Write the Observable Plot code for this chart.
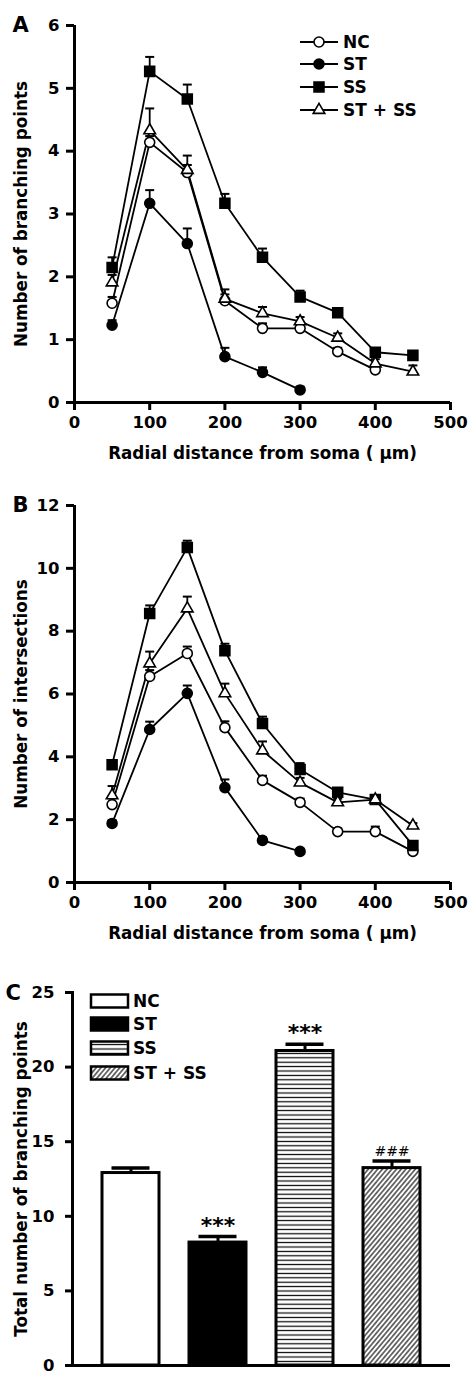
<!DOCTYPE html>
<html><head><meta charset="utf-8">
<script src="https://cdn.jsdelivr.net/npm/d3@7"></script>
<script src="https://cdn.jsdelivr.net/npm/@observablehq/plot@0.6"></script>
<style>
body{margin:0;background:#fff;}
#c svg{display:block;overflow:visible;}
</style></head><body><div id="c"></div>
<script>
// ---------- data ----------
const radius = [50, 100, 150, 200, 250, 300, 350, 400, 450];
const radiusTicks = [0, 100, 200, 300, 400, 500];
const groups = ["NC", "ST", "SS", "ST + SS"];

// Panel A: number of branching points
const branchNC = [1.58, 4.14, 3.66, 1.62, 1.18, 1.18, 0.81, 0.52];
const branchNCErr = [0.1, 0.1, 0.12, 0.1, 0.08, 0.08, 0.06, 0.05];
const branchST = [1.23, 3.17, 2.53, 0.73, 0.48, 0.20];
const branchSTErr = [0.08, 0.21, 0.24, 0.14, 0.08, 0.05];
const branchSS = [2.15, 5.27, 4.83, 3.17, 2.31, 1.68, 1.43, 0.80, 0.75];
const branchSSErr = [0.16, 0.23, 0.23, 0.15, 0.14, 0.10, 0.06, 0.06, 0.05];
const branchSTSS = [1.91, 4.33, 3.70, 1.65, 1.42, 1.29, 1.03, 0.62, 0.49];
const branchSTSSErr = [0.12, 0.35, 0.23, 0.15, 0.10, 0.07, 0.07, 0.07, 0.10];
const branchTicks = [0, 1, 2, 3, 4, 5, 6];

// Panel B: number of intersections
const interNC = [2.48, 6.56, 7.29, 4.93, 3.25, 2.55, 1.62, 1.62, 0.99];
const interNCErr = [0.2, 0.2, 0.22, 0.2, 0.15, 0.12, 0.1, 0.16, 0.1];
const interST = [1.88, 4.87, 6.02, 3.02, 1.34, 0.99];
const interSTErr = [0.1, 0.25, 0.25, 0.26, 0.1, 0.08];
const interSS = [3.75, 8.56, 10.66, 7.38, 5.06, 3.60, 2.87, 2.64, 1.18];
const interSSErr = [0.12, 0.26, 0.22, 0.22, 0.22, 0.2, 0.12, 0.12, 0.1];
const interSTSS = [2.77, 6.97, 8.72, 6.02, 4.20, 3.18, 2.55, 2.64, 1.81];
const interSTSSErr = [0.3, 0.38, 0.38, 0.31, 0.29, 0.15, 0.12, 0.1, 0.08];
const interTicks = [0, 2, 4, 6, 8, 10, 12];

// Panel C: total number of branching points
const totalValues = [12.9, 8.24, 21.08, 13.23];
const totalErr = [0.33, 0.4, 0.45, 0.47];
const totalNotes = ["", "***", "***", "###"];
const totalTicks = [0, 5, 10, 15, 20, 25];

const xLabel = "Radial distance from soma ( \u03bcm)";
const labelA = "Number of branching points";
const labelB = "Number of intersections";
const labelC = "Total number of branching points";

// ---------- helpers ----------
function longRows(vals, errs) {
  const rows = [];
  groups.forEach((g, gi) => {
    vals[gi].forEach((v, i) => rows.push({group: g, r: radius[i], v, e: errs[gi][i]}));
  });
  return rows;
}
const rowsA = longRows([branchNC, branchST, branchSS, branchSTSS], [branchNCErr, branchSTErr, branchSSErr, branchSTSSErr]);
const rowsB = longRows([interNC, interST, interSS, interSTSS], [interNCErr, interSTErr, interSSErr, interSTSSErr]);
const rowsC = groups.map((g, i) => ({group: g, v: totalValues[i], e: totalErr[i], note: totalNotes[i]}));

const look = {
  "NC": {symbol: "circle", fill: "white", r: 5},
  "ST": {symbol: "circle", fill: "black", r: 5},
  "SS": {symbol: "square", fill: "black", r: 5.6},
  "ST + SS": {symbol: "triangle", fill: "white", r: 4.3}
};
const capSymbol = {draw(ctx) { ctx.moveTo(-4.5, 0); ctx.lineTo(4.5, 0); }};
const FONT = "DejaVu Sans";
const TICK_FS = 16.5;
const LABEL_FS = 16.8;

function linePanel({rows, yMax, yTicks, yLabel, letter, height, marginTop}) {
  return Plot.plot({
    width: 468, height, marginTop, marginBottom: 68, marginLeft: 74, marginRight: 18,
    style: {fontFamily: FONT, fontWeight: "bold", fontSize: "16px", color: "black", background: "white", overflow: "visible"},
    x: {domain: [0, 500]},
    y: {domain: [0, yMax]},
    marks: [
      Plot.axisX({ticks: radiusTicks, tickSize: 8, tickPadding: 6, strokeWidth: 3, tickFormat: d => String(d), label: null, fontSize: TICK_FS}),
      Plot.axisY({ticks: yTicks, tickSize: 8, tickPadding: 7, strokeWidth: 3, tickFormat: d => String(d), label: null, fontSize: TICK_FS}),
      Plot.ruleX([0], {stroke: "black", strokeWidth: 3}),
      Plot.ruleY([0], {stroke: "black", strokeWidth: 3}),
      Plot.line(rows, {x: "r", y: "v", z: "group", stroke: "black", strokeWidth: 1.8}),
      Plot.ruleX(rows, {x: "r", y1: "v", y2: d => d.v + d.e, stroke: "black", strokeWidth: 1.8}),
      Plot.dot(rows, {x: "r", y: d => d.v + d.e, symbol: capSymbol, r: 5, stroke: "black", strokeWidth: 2}),
      ...groups.map(g => Plot.dot(rows.filter(d => d.group === g), {
        x: "r", y: "v", symbol: look[g].symbol, r: look[g].r,
        fill: look[g].fill, stroke: "black", strokeWidth: 1.6
      })),
      Plot.text([xLabel], {text: d => d, frameAnchor: "bottom", dy: 45, lineAnchor: "top", textAnchor: "middle", fontSize: LABEL_FS}),
      Plot.text([yLabel], {text: d => d, frameAnchor: "left", dx: -53, rotate: -90, textAnchor: "middle", lineAnchor: "middle", fontSize: LABEL_FS}),
      Plot.text([letter], {text: d => d, frameAnchor: "top-left", dx: -62, dy: -8, textAnchor: "start", lineAnchor: "top", fontSize: 21})
    ]
  });
}

const root = document.getElementById("c");

// Panel A
const svgA = linePanel({rows: rowsA, yMax: 6, yTicks: branchTicks, yLabel: labelA, letter: "A", height: 470, marginTop: 25});
root.appendChild(svgA);
{
  const g = d3.select(svgA).append("g").attr("font-family", FONT).attr("font-weight", "bold").attr("font-size", 17).attr("text-anchor", "start");
  const rowsY = [42, 64, 87, 110];
  groups.forEach((name, i) => {
    const y = rowsY[i];
    g.append("line").attr("x1", 300).attr("x2", 338).attr("y1", y).attr("y2", y).attr("stroke", "black").attr("stroke-width", 1.8);
    const sym = look[name].symbol === "circle" ? d3.symbolCircle : look[name].symbol === "square" ? d3.symbolSquare : d3.symbolTriangle;
    const r = look[name].r;
    g.append("path").attr("d", d3.symbol(sym, r * r * Math.PI)()).attr("transform", `translate(319,${y})`)
      .attr("fill", look[name].fill).attr("stroke", "black").attr("stroke-width", 1.6);
    g.append("text").attr("x", 343).attr("y", y).attr("dy", "0.36em").text(name);
  });
}

// Panel B
const svgB = linePanel({rows: rowsB, yMax: 12, yTicks: interTicks, yLabel: labelB, letter: "B", height: 480, marginTop: 35});
root.appendChild(svgB);

// Panel C
const fills = {"NC": "white", "ST": "black", "SS": "url(#hlines)", "ST + SS": "url(#diag)"};
const svgC = Plot.plot({
  width: 468, height: 425, marginTop: 42, marginBottom: 10, marginLeft: 72, marginRight: 18,
  style: {fontFamily: FONT, fontWeight: "bold", fontSize: "16px", color: "black", background: "white", overflow: "visible"},
  x: {domain: groups, padding: 0.34, axis: null},
  y: {domain: [0, 25]},
  marks: [
    ...groups.map(g => Plot.barY(rowsC.filter(d => d.group === g), {x: "group", y: "v", fill: fills[g], stroke: "black", strokeWidth: 3})),
    Plot.ruleX(rowsC, {x: "group", y1: "v", y2: d => d.v + d.e, stroke: "black", strokeWidth: 3}),
    Plot.tickY(rowsC, {x: "group", y: d => d.v + d.e, stroke: "black", strokeWidth: 3.5, insetLeft: 9.5, insetRight: 9.5}),
    Plot.text(rowsC.filter(d => d.note === "***"), {x: "group", y: d => d.v + d.e, text: "note", dy: -4, lineAnchor: "bottom", fontSize: 22}),
    Plot.text(rowsC.filter(d => d.note === "###"), {x: "group", y: d => d.v + d.e, text: "note", dy: -5, lineAnchor: "bottom", fontSize: 14, fontWeight: "normal"}),
    Plot.axisY({ticks: totalTicks, tickSize: 7, tickPadding: 11, strokeWidth: 3, tickFormat: d => String(d), label: null, fontSize: TICK_FS}),
    Plot.frame({anchor: "left", stroke: "black", strokeWidth: 3}),
    Plot.ruleY([0], {stroke: "black", strokeWidth: 3}),
    Plot.text([labelC], {text: d => d, frameAnchor: "left", dx: -51, rotate: -90, textAnchor: "middle", lineAnchor: "middle", fontSize: LABEL_FS}),
    Plot.text(["C"], {text: d => d, frameAnchor: "top-left", dx: -67, dy: -7, textAnchor: "start", lineAnchor: "top", fontSize: 21})
  ]
});
root.appendChild(svgC);
{
  const svg = d3.select(svgC);
  const defs = svg.insert("defs", ":first-child");
  const ph = defs.append("pattern").attr("id", "hlines").attr("patternUnits", "userSpaceOnUse").attr("width", 8).attr("height", 4.4);
  ph.append("rect").attr("width", 8).attr("height", 4.4).attr("fill", "white");
  ph.append("line").attr("x1", 0).attr("x2", 8).attr("y1", 2.2).attr("y2", 2.2).attr("stroke", "black").attr("stroke-width", 1.2);
  const pd = defs.append("pattern").attr("id", "diag").attr("patternUnits", "userSpaceOnUse").attr("width", 3.6).attr("height", 10).attr("patternTransform", "rotate(40)");
  pd.append("rect").attr("width", 3.6).attr("height", 10).attr("fill", "white");
  pd.append("line").attr("x1", 1.8).attr("x2", 1.8).attr("y1", 0).attr("y2", 10).attr("stroke", "black").attr("stroke-width", 1.1);

  const g = svg.append("g").attr("font-family", FONT).attr("font-weight", "bold").attr("font-size", 17).attr("text-anchor", "start");
  const rowsY = [51, 74, 98, 123];
  groups.forEach((name, i) => {
    const y = rowsY[i];
    g.append("rect").attr("x", 91).attr("y", y - 6.5).attr("width", 37).attr("height", 13)
      .attr("fill", fills[name]).attr("stroke", "black").attr("stroke-width", 2.5);
    g.append("text").attr("x", 133).attr("y", y).attr("dy", "0.36em").text(name);
  });
}
</script>
</body></html>
